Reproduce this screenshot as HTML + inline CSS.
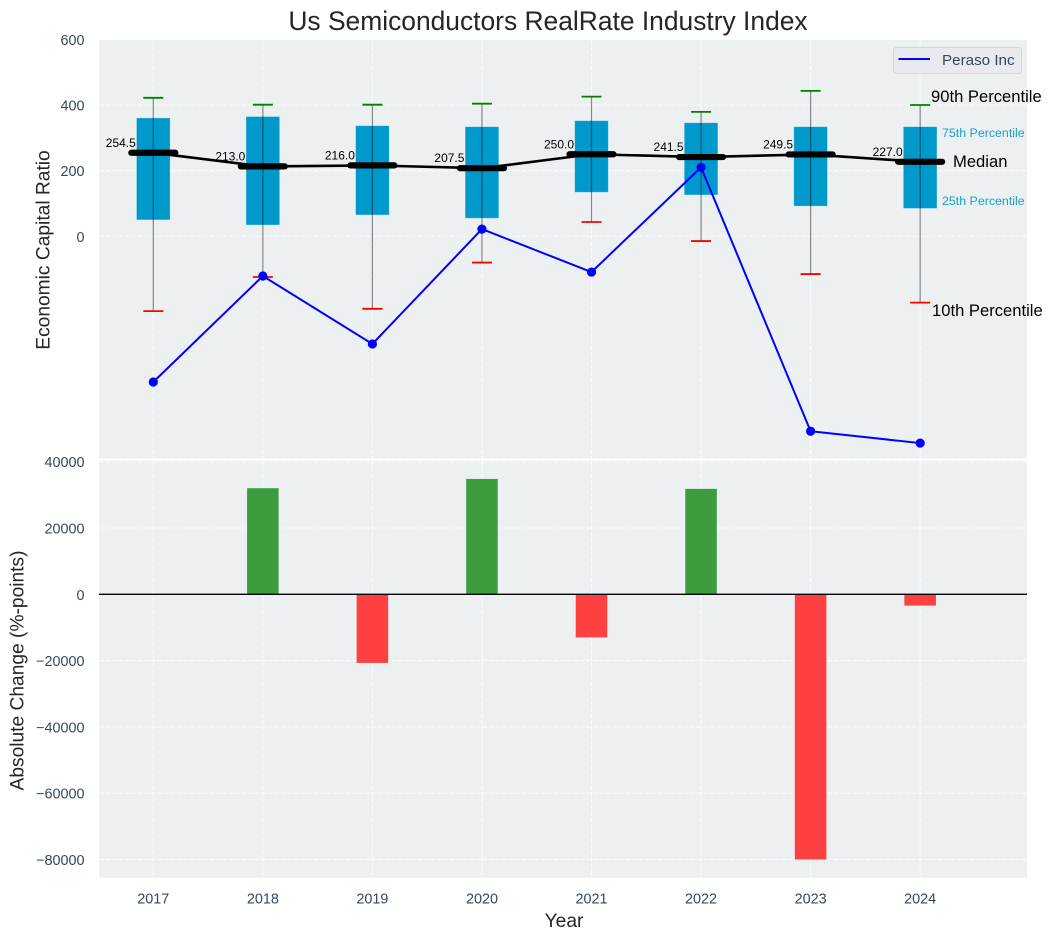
<!DOCTYPE html>
<html>
<head>
<meta charset="utf-8">
<title>Us Semiconductors RealRate Industry Index</title>
<style>
html,body{margin:0;padding:0;background:#fff;}
svg{display:block;font-family:"Liberation Sans",Arial,sans-serif;}
</style>
</head>
<body>
<svg id="chart" xmlns="http://www.w3.org/2000/svg" width="1051" height="940" viewBox="0 0 1051 940"></svg>
<script>
const years = [2017, 2018, 2019, 2020, 2021, 2022, 2023, 2024];
const p90 = [422, 401, 401, 404, 425.6, 379, 443, 400];
const q3 = [360.7, 365, 337, 334, 352.4, 346, 334, 334];
const medians = [254.5, 213.0, 216.0, 207.5, 250.0, 241.5, 249.5, 227.0];
const q1 = [50, 34.5, 65, 55, 134, 126, 92, 85];
const p10 = [-228, -124, -221, -80, 43.6, -14.5, -115, -202];
const peraso = [-444, -121, -328, 22, -109, 210, -594, -630];
const changes = [null, 32000, -20700, 34800, -13000, 31800, -80000, -3400];
const topTicks = [0, 200, 400, 600];
const bottomTicks = [-80000, -60000, -40000, -20000, 0, 20000, 40000];

const svg = document.getElementById('chart');
const NS = 'http://www.w3.org/2000/svg';
const left = 99, right = 1027;
const topStart = 40, topEnd = 458.5;
const botStart = 460.5, botEnd = 877.7;
const x = v => 153.3 + (v - 2017) * 109.55;
const yTop = v => 236.3 - v * 0.3282;
const yBot = v => 594.3 - v * 0.003315;

function mk(tag, attrs, text) {
  const el = document.createElementNS(NS, tag);
  for (const k in attrs) el.setAttribute(k, attrs[k]);
  if (text !== undefined) el.textContent = text;
  svg.appendChild(el);
  return el;
}
let el;

el = mk('rect', {x: 0, y: 0, width: 1051, height: 940, fill: '#ffffff'});



el = mk('rect', {x: left, y: topStart, width: right - left, height: topEnd - topStart, fill: '#ecf0f1'});



el = mk('rect', {x: left, y: botStart, width: right - left, height: botEnd - botStart, fill: '#ecf0f1'});



const gridStyle = {stroke: '#ffffff', 'stroke-width': 1, 'stroke-dasharray': '4.5 2', opacity: 0.8};

// horizontal gridlines + tick labels
topTicks.forEach(t => {
  const y = yTop(t);
  let g = mk('line', Object.assign({x1: left, x2: right, y1: y, y2: y}, gridStyle));
  
  
  let l = mk('text', {x: 84.5, y: y + 5.5, 'text-anchor': 'end', 'font-size': 14.4, fill: '#34495e'}, String(t));
  
  
});
bottomTicks.forEach(t => {
  const y = yBot(t);
  let g = mk('line', Object.assign({x1: left, x2: right, y1: y, y2: y}, gridStyle));
  
  
  let l = mk('text', {x: 84.5, y: y + 5.5, 'text-anchor': 'end', 'font-size': 14.4, fill: '#34495e'}, String(t).replace('-', '\u2212'));
  
  
});

// vertical gridlines + x tick labels
years.forEach(yr => {
  const px = x(yr);
  let a = mk('line', Object.assign({x1: px, x2: px, y1: topStart, y2: topEnd}, gridStyle));
  
  
  let b = mk('line', Object.assign({x1: px, x2: px, y1: botStart, y2: botEnd}, gridStyle));
  
  
  let l = mk('text', {x: px, y: 903.5, 'text-anchor': 'middle', 'font-size': 14.4, fill: '#34495e'}, String(yr));
  
  
});

// boxes (interquartile range)
const boxW = 0.307 * 109.55;
years.forEach((yr, i) => {
  let b = mk('rect', {x: x(yr) - boxW / 2, y: yTop(q3[i]), width: boxW, height: yTop(q1[i]) - yTop(q3[i]), fill: '#0099cc', stroke: '#ffffff', 'stroke-opacity': 0.35, 'stroke-width': 0.8});
  
  
});

// whiskers and caps
years.forEach((yr, i) => {
  const px = x(yr);
  let w = mk('line', {x1: px, x2: px, y1: yTop(p90[i]), y2: yTop(p10[i]), stroke: '#000000', 'stroke-opacity': 0.45, 'stroke-width': 1.2});
  
  
  let c1 = mk('line', {x1: px - 10, x2: px + 10, y1: yTop(p90[i]), y2: yTop(p90[i]), stroke: '#008000', 'stroke-width': 1.8});
  
  
  let c2 = mk('line', {x1: px - 10, x2: px + 10, y1: yTop(p10[i]), y2: yTop(p10[i]), stroke: '#ff0000', 'stroke-width': 1.8});
  
  
});

// median connecting line
el = mk('polyline', {points: years.map((yr, i) => x(yr) + ',' + yTop(medians[i])).join(' '), fill: 'none', stroke: '#000000', 'stroke-width': 2.6});



// median markers + labels
years.forEach((yr, i) => {
  const px = x(yr), py = yTop(medians[i]);
  let m = mk('line', {x1: px - 22, x2: px + 22, y1: py, y2: py, stroke: '#000000', 'stroke-width': 6.2, 'stroke-linecap': 'round'});
  
  
  let l = mk('text', {x: px - 17.5, y: py - 6, 'text-anchor': 'end', 'font-size': 12, fill: '#000000'}, medians[i].toFixed(1));
  
  
});

// Peraso line
el = mk('polyline', {points: years.map((yr, i) => x(yr) + ',' + yTop(peraso[i])).join(' '), fill: 'none', stroke: '#0000ff', 'stroke-width': 2});


years.forEach((yr, i) => {
  let d = mk('circle', {cx: x(yr), cy: yTop(peraso[i]), r: 4.6, fill: '#0000ff'});
  
  
});

// change bars
const barW = 0.288 * 109.55;
years.forEach((yr, i) => {
  if (changes[i] === null) return;
  const y0 = yBot(0), y1 = yBot(changes[i]);
  let b = mk('rect', {x: x(yr) - barW / 2, y: Math.min(y0, y1), width: barW, height: Math.abs(y1 - y0), fill: changes[i] >= 0 ? '#3c9c3e' : '#ff4040'});
  
  
});
el = mk('line', {x1: left, x2: right, y1: yBot(0), y2: yBot(0), stroke: '#000000', 'stroke-width': 1.3});



// annotations
el = mk('text', {x: 931, y: 102, 'font-size': 16.6, fill: '#000000'}, '90th Percentile');


el = mk('text', {x: 942, y: 137, 'font-size': 12.4, fill: '#1a9fd0'}, '75th Percentile');


el = mk('text', {x: 953, y: 167, 'font-size': 16.6, fill: '#000000'}, 'Median');


el = mk('text', {x: 942, y: 205, 'font-size': 12.4, fill: '#1a9fd0'}, '25th Percentile');


el = mk('text', {x: 932, y: 316, 'font-size': 16.6, fill: '#000000'}, '10th Percentile');



// legend
el = mk('rect', {x: 893.5, y: 47.5, width: 128, height: 26, rx: 3, fill: '#e8eaef', stroke: '#d4d6db', 'stroke-width': 1});


el = mk('line', {x1: 898.5, x2: 930, y1: 59, y2: 59, stroke: '#0000ff', 'stroke-width': 2});


el = mk('text', {x: 942, y: 65, 'font-size': 15.2, fill: '#34495e'}, 'Peraso Inc');



// titles
el = mk('text', {x: 548, y: 30, 'text-anchor': 'middle', 'font-size': 26.4, fill: '#262626'}, 'Us Semiconductors RealRate Industry Index');


el = mk('text', {x: 564, y: 927, 'text-anchor': 'middle', 'font-size': 19.2, fill: '#262626'}, 'Year');


el = mk('text', {transform: 'translate(49.5,250) rotate(-90)', 'text-anchor': 'middle', 'font-size': 19.2, fill: '#262626'}, 'Economic Capital Ratio');


el = mk('text', {transform: 'translate(23.5,670.5) rotate(-90)', 'text-anchor': 'middle', 'font-size': 19.2, fill: '#262626'}, 'Absolute Change (%-points)');


</script>
</body>
</html>
